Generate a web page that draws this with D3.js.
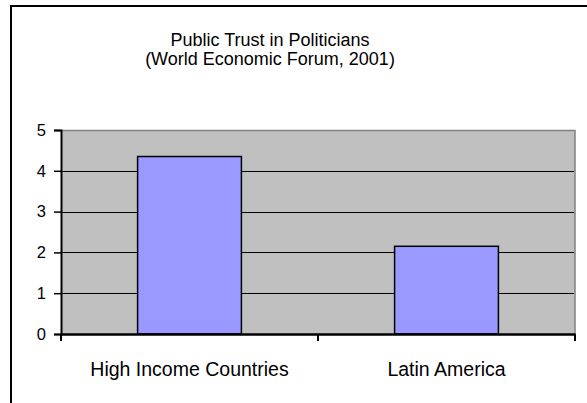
<!DOCTYPE html>
<html>
<head>
<meta charset="utf-8">
<script src="https://cdn.jsdelivr.net/npm/d3@7"></script>
<style>
  html, body { margin: 0; padding: 0; background: #fff; }
  svg { display: block; }
  text { font-family: "Liberation Sans", Arial, sans-serif; fill: #000; }
</style>
</head>
<body>
<svg id="chart" width="587" height="403"></svg>
<script>
const titleLines = ["Public Trust in Politicians", "(World Economic Forum, 2001)"];
const categories = ["High Income Countries", "Latin America"];
const values = [4.35, 2.15];
const yTicks = [0, 1, 2, 3, 4, 5];

const svg = d3.select("#chart");
const W = 587, H = 403;
const plot = { left: 61, right: 575, top: 130, bottom: 334 };

// outer frame (top & left visible)
svg.append("line").attr("x1", 11).attr("x2", 587).attr("y1", 6).attr("y2", 6)
  .attr("stroke", "#000").attr("stroke-width", 2);
svg.append("line").attr("x1", 11).attr("x2", 11).attr("y1", 5).attr("y2", 403)
  .attr("stroke", "#000").attr("stroke-width", 2);

// title
svg.append("text").attr("x", 270).attr("y", 45.5).attr("text-anchor", "middle")
  .style("font-size", "18px").text(titleLines[0]);
svg.append("text").attr("x", 270).attr("y", 65).attr("text-anchor", "middle")
  .style("font-size", "18px").text(titleLines[1]);

const y = d3.scaleLinear().domain([0, 5]).range([plot.bottom, plot.top]);
const x = d3.scaleBand().domain(categories).range([plot.left, plot.right])
  .paddingInner(0.596).paddingOuter(0.298);

// plot background
svg.append("rect").attr("x", plot.left).attr("y", plot.top)
  .attr("width", plot.right - plot.left).attr("height", plot.bottom - plot.top)
  .attr("fill", "#C0C0C0");
// grey top/right border
svg.append("path")
  .attr("d", `M${plot.left},${plot.top + 0.5}H${plot.right}V${plot.bottom}`)
  .attr("fill", "none").attr("stroke", "#808080").attr("stroke-width", 1.5);

// gridlines
svg.append("g").selectAll("line").data(yTicks.filter(d => d > 0 && d < 5)).join("line")
  .attr("x1", plot.left).attr("x2", plot.right - 1)
  .attr("y1", d => Math.round(y(d)) + 0.5).attr("y2", d => Math.round(y(d)) + 0.5)
  .attr("stroke", "#000").attr("stroke-width", 1);

// bars
svg.append("g").selectAll("rect").data(values).join("rect")
  .attr("x", (d, i) => x(categories[i]))
  .attr("y", d => y(d))
  .attr("width", x.bandwidth())
  .attr("height", d => plot.bottom - y(d))
  .attr("fill", "#9999FF").attr("stroke", "#000").attr("stroke-width", 1.5);

// y axis
const yAxis = d3.axisLeft(y).tickValues(yTicks).tickSize(7).tickPadding(8)
  .tickFormat(d3.format("d"));
const gy = svg.append("g").attr("transform", `translate(${plot.left},0)`).call(yAxis);
gy.select(".domain").attr("stroke", "#000").attr("stroke-width", 2);
gy.selectAll(".tick line").attr("stroke", "#000").attr("stroke-width", 1.5);
gy.selectAll(".tick text").style("font-size", "16.5px")
  .style("font-family", "'Liberation Sans', Arial, sans-serif").attr("fill", "#000");

// x axis
const xAxis = d3.axisBottom(x).tickSize(0).tickPadding(0);
const gx = svg.append("g").attr("transform", `translate(0,${plot.bottom})`).call(xAxis);
gx.select(".domain").attr("stroke", "#000").attr("stroke-width", 2.5);
gx.selectAll(".tick text").attr("y", 42).attr("dy", null)
  .style("font-size", "19.5px")
  .style("font-family", "'Liberation Sans', Arial, sans-serif").attr("fill", "#000");
// category boundary ticks
const bounds = [plot.left, x(categories[1]) - x.step() * x.paddingInner() / 2, plot.right];
gx.append("g").selectAll("line").data(bounds).join("line")
  .attr("x1", d => d).attr("x2", d => d).attr("y1", 0).attr("y2", 7)
  .attr("stroke", "#000").attr("stroke-width", 2);
</script>
</body>
</html>
